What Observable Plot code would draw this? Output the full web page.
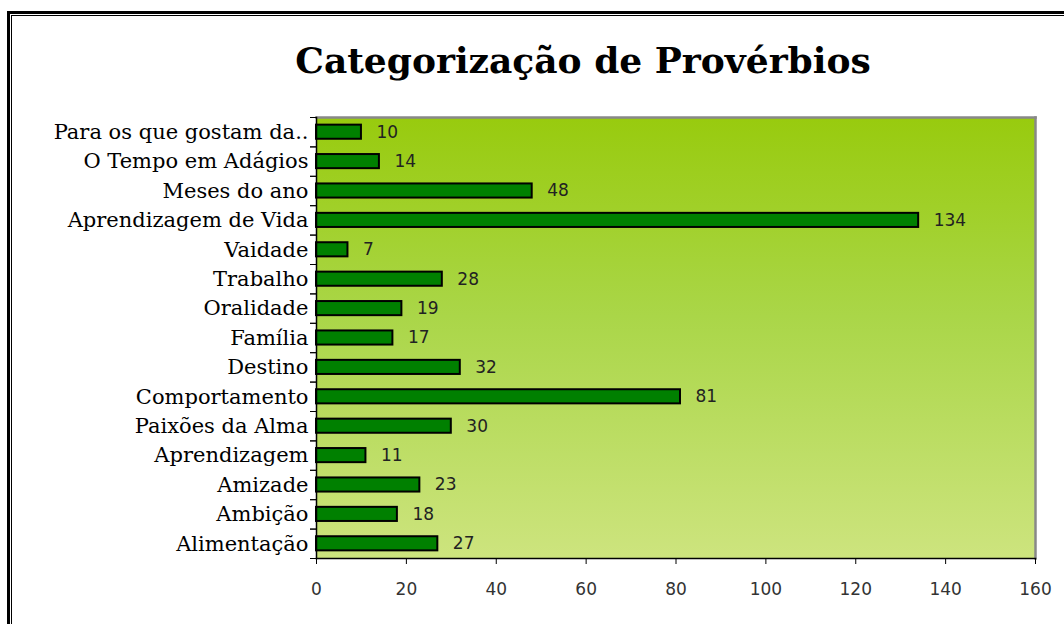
<!DOCTYPE html>
<html>
<head>
<meta charset="utf-8">
<script src="https://cdn.jsdelivr.net/npm/d3@7"></script>
<script src="https://cdn.jsdelivr.net/npm/@observablehq/plot@0.6"></script>
<style>
  html, body { margin: 0; padding: 0; background: #fff; width: 1064px; height: 624px; overflow: hidden; }
  #wrap { position: relative; width: 1064px; height: 624px; }
  .frame-outer { position: absolute; left: 7px; top: 11px; width: 1200px; height: 700px; border: 3px solid #000; box-sizing: border-box; }
  .frame-inner { position: absolute; left: 11px; top: 15px; width: 1200px; height: 700px; border: 1px solid #000; box-sizing: border-box; }
  #title { position: absolute; left: 0; top: 38px; width: 1166px; text-align: center; font-family: "DejaVu Serif", serif; font-weight: bold; font-size: 36px; line-height: 44px; color: #000; }
  #chart { position: absolute; left: 0; top: 100px; }
</style>
</head>
<body>
<div id="wrap">
  <div class="frame-outer"></div>
  <div class="frame-inner"></div>
  <div id="title">Categorização de Provérbios</div>
  <div id="chart"></div>
</div>
<script>
const categories = [
  "Para os que gostam da..",
  "O Tempo em Adágios",
  "Meses do ano",
  "Aprendizagem de Vida",
  "Vaidade",
  "Trabalho",
  "Oralidade",
  "Família",
  "Destino",
  "Comportamento",
  "Paixões da Alma",
  "Aprendizagem",
  "Amizade",
  "Ambição",
  "Alimentação"
];
const values = [10, 14, 48, 134, 7, 28, 19, 17, 32, 81, 30, 11, 23, 18, 27];
const xTicks = [0, 20, 40, 60, 80, 100, 120, 140, 160];

const data = categories.map((c, i) => ({category: c, value: values[i]}));

const gradientDefs = () => {
  const ns = "http://www.w3.org/2000/svg";
  const defs = document.createElementNS(ns, "defs");
  const lg = document.createElementNS(ns, "linearGradient");
  lg.setAttribute("id", "bgGrad");
  lg.setAttribute("x1", "0"); lg.setAttribute("y1", "0");
  lg.setAttribute("x2", "0"); lg.setAttribute("y2", "1");
  [["0%", "#98cb0e"], ["45%", "#aad648"], ["100%", "#cde47e"]].forEach(([o, c]) => {
    const s = document.createElementNS(ns, "stop");
    s.setAttribute("offset", o); s.setAttribute("stop-color", c);
    lg.appendChild(s);
  });
  defs.appendChild(lg);
  return defs;
};

const step = 441 / 15;

const chart = Plot.plot({
  width: 1064,
  height: 524,
  marginTop: 17,
  marginBottom: 66,
  marginLeft: 316,
  marginRight: 29,
  style: { background: "transparent", overflow: "visible" },
  x: { domain: [0, 160], ticks: xTicks },
  y: { domain: categories, paddingInner: 0.52, paddingOuter: 0.26, round: false },
  marks: [
    gradientDefs,
    Plot.frame({ fill: "url(#bgGrad)", stroke: "none" }),
    Plot.frame({ anchor: "top", stroke: "#888", strokeWidth: 2.5 }),
    Plot.frame({ anchor: "right", stroke: "#888", strokeWidth: 2.5 }),
    Plot.barX(data, { x: "value", y: "category", fill: "#008000", stroke: "#000", strokeWidth: 2 }),
    Plot.text(data, { x: "value", y: "category", text: d => String(d.value), textAnchor: "start", dx: 15, fontFamily: "DejaVu Sans", fontSize: 17, fill: "#222" }),
    Plot.frame({ anchor: "bottom", stroke: "#000", strokeWidth: 1.5 }),
    Plot.frame({ anchor: "left", stroke: "#000", strokeWidth: 1.5 }),
    Plot.axisX({ ticks: xTicks, tickSize: 6, tickPadding: 18, fontFamily: "DejaVu Sans", fontSize: 17, color: "#333", label: null, stroke: "#000" }),
    Plot.axisY({ tickSize: 0, tickPadding: 8, fontFamily: "DejaVu Serif", fontSize: 21, color: "#000", label: null }),
    Plot.axisY({ tickSize: 6, text: null, dy: -step / 2, label: null, stroke: "#000" }),
    Plot.axisY({ tickSize: 6, text: null, dy: step / 2, label: null, stroke: "#000" })
  ]
});
document.getElementById("chart").appendChild(chart);
</script>
</body>
</html>
